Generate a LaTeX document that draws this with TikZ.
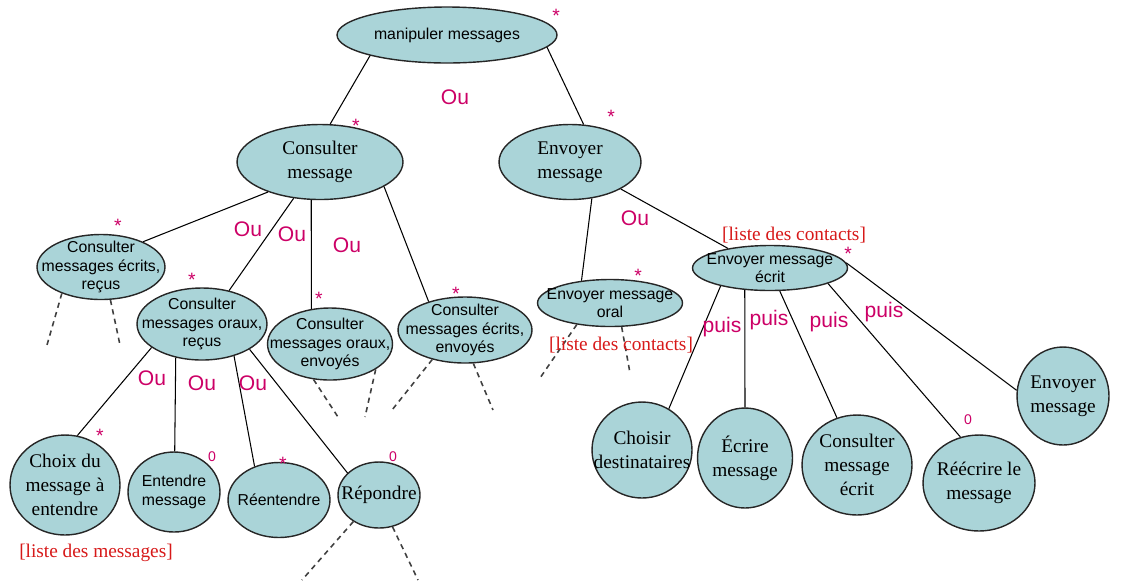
\documentclass[tikz,border=0pt]{standalone}
\usepackage{fontspec}
\setmainfont{Liberation Serif}
\setsansfont{Liberation Sans}
\usetikzlibrary{shapes.geometric}
\definecolor{tachefond}{RGB}{170,212,216}
\definecolor{rose}{RGB}{204,0,102}
\definecolor{rouge}{RGB}{215,25,25}
\tikzset{
  tache/.style 2 args={ellipse, draw=black!85, line width=.8pt, fill=tachefond, minimum width=#1, minimum height=#2, inner sep=0pt},
  txtserif/.style={font=\fontsize{11}{13.5}\selectfont, align=center},
  txtsans/.style={font=\sffamily\fontsize{9}{10.5}\selectfont, align=center},
  ou/.style={text=rose, font=\sffamily\fontsize{12}{12}\selectfont, inner sep=0pt},
  etoile/.style={text=rose, font=\sffamily\fontsize{11}{11}\selectfont, inner sep=0pt},
  liste/.style={text=rouge, font=\fontsize{11}{11}\selectfont, inner sep=0pt},
  lien/.style={line width=.6pt},
  suite/.style={line width=.9pt, black!75, dash pattern=on 3pt off 2.5pt}
}

\begin{document}
\begin{tikzpicture}[x=0.02cm, y=-0.02cm]
\useasboundingbox (0,0) rectangle (1124,586);

\node[tache={4.4cm}{1.12cm}, label={[txtsans]center:{manipuler messages}}] (manip) at (447,35) {};
\node[tache={3.32cm}{1.5cm}, label={[txtserif]center:{Consulter\\message}}] (cmsg) at (320,162) {};
\node[tache={2.84cm}{1.5cm}, label={[txtserif]center:{Envoyer\\message}}] (emsg) at (570,162) {};
\node[tache={2.56cm}{1.3cm}, label={[txtsans]center:{Consulter\\messages écrits,\\reçus}}] (ecr) at (101,267) {};
\node[tache={2.6cm}{1.44cm}, label={[txtsans]center:{Consulter\\messages oraux,\\reçus}}] (orr) at (202,324) {};
\node[tache={2.5cm}{1.44cm}, label={[txtsans]center:{Consulter\\messages oraux,\\envoyés}}] (ore) at (330,344) {};
\node[tache={2.68cm}{1.32cm}, label={[txtsans]center:{Consulter\\messages écrits,\\envoyés}}] (ece) at (465,330) {};
\node[tache={2.2cm}{2cm}, label={[txtserif]center:{Choix du\\message à\\entendre}}] (choix) at (65,485) {};
\node[tache={1.84cm}{1.6cm}, label={[txtsans]center:{Entendre\\message}}] (ent) at (174,492) {};
\node[tache={2.04cm}{1.5cm}, label={[txtsans]center:{Réentendre}}] (reent) at (279,500) {};
\node[tache={1.64cm}{1.32cm}, label={[txtserif]center:{Répondre}}] (rep) at (379,495) {};
\node[tache={2.9cm}{0.94cm}, label={[txtsans]center:{Envoyer message\\oral}}] (oral) at (610,303) {};
\node[tache={3.1cm}{0.9cm}, label={[txtsans]center:{Envoyer message\\écrit}}] (ecrit) at (770,268) {};
\node[tache={2cm}{1.92cm}, label={[txtserif]center:{Choisir\\destinataires}}] (chois) at (642,450) {};
\node[tache={1.9cm}{2cm}, label={[txtserif]center:{Écrire\\message}}] (ecrire) at (745,458) {};
\node[tache={2.2cm}{2cm}, label={[txtserif]center:{Consulter\\message\\écrit}}] (cecrit) at (857,465) {};
\node[tache={2.24cm}{1.92cm}, label={[txtserif]center:{Réécrire le\\message}}] (reecr) at (979,483) {};
\node[tache={1.84cm}{1.96cm}, label={[txtserif]center:{Envoyer\\message}}] (envm) at (1063,396) {};

\draw[lien] (manip.195) -- (cmsg.75);
\draw[lien] (manip.-7) -- (emsg.70);
\draw[lien] (cmsg.210) -- (ecr.31);
\draw[lien] (cmsg.234) -- (orr.51);
\draw[lien] (cmsg.257) -- (ore.118);
\draw[lien] (cmsg.-21) -- (ece.142);
\draw[lien] (emsg.-59) -- (oral.142);
\draw[lien] (emsg.-28) -- (ecrit.155);
\draw[lien] (orr.205) -- (choix.76);
\draw[lien] (orr.232) -- (ent.89);
\draw[lien] (orr.-45) -- (reent.126);
\draw[lien] (orr.-28) -- (rep.145);
\draw[lien] (ecrit.200) -- (chois.57);
\draw[lien] (ecrit.221) -- (ecrire.90);
\draw[lien] (ecrit.-67) -- (cecrit.113);
\draw[lien] (ecrit.-15) -- (reecr.112);
\draw[lien] (ecrit.4) -- (envm.173);

\coordinate (s1) at (47,345);
\coordinate (s2) at (120,345);
\coordinate (s3) at (338,417);
\coordinate (s4) at (365,417);
\coordinate (s5) at (392,410);
\coordinate (s6) at (493,410);
\coordinate (s7) at (302,580);
\coordinate (s8) at (418,580);
\coordinate (s9) at (540,378);
\coordinate (s10) at (630,373);
\draw[suite] (ecr.214) -- (s1);
\draw[suite] (ecr.286) -- (s2);
\draw[suite] (ore.245) -- (s3);
\draw[suite] (ore.331) -- (s4);
\draw[suite] (ece.222) -- (s5);
\draw[suite] (ece.284) -- (s6);
\draw[suite] (rep.226) -- (s7);
\draw[suite] (rep.293) -- (s8);
\draw[suite] (oral.213) -- (s9);
\draw[suite] (oral.296) -- (s10);

\node[ou] (ou1) at (455,97) {Ou};
\node[ou] (ou2) at (248,229) {Ou};
\node[ou] (ou3) at (292,234) {Ou};
\node[ou] (ou4) at (347,245) {Ou};
\node[ou] (ou5) at (635,218) {Ou};
\node[ou] (ou6) at (152,378) {Ou};
\node[ou] (ou7) at (202,383) {Ou};
\node[ou] (ou8) at (253,383) {Ou};
\node[ou] (puis1) at (722,327) {puis};
\node[ou] (puis2) at (769,320) {puis};
\node[ou] (puis3) at (829,322) {puis};
\node[ou] (puis4) at (884,312) {puis};

\node[etoile] (et1) at (556,16) {*};
\node[etoile] (et2) at (356,126) {*};
\node[etoile] (et3) at (611,117) {*};
\node[etoile] (et4) at (118,226) {*};
\node[etoile] (et5) at (192,280) {*};
\node[etoile] (et6) at (319,299) {*};
\node[etoile] (et7) at (456,294) {*};
\node[etoile] (et8) at (100,436) {*};
\node[etoile] (et9) at (283,464) {*};
\node[etoile] (et10) at (638,276) {*};
\node[etoile] (et11) at (848,254) {*};
\node[etoile, font=\sffamily\fontsize{8}{8}\selectfont] (z1) at (212,457) {0};
\node[etoile, font=\sffamily\fontsize{8}{8}\selectfont] (z2) at (393,457) {0};
\node[etoile, font=\sffamily\fontsize{8}{8}\selectfont] (z3) at (968,420) {0};

\node[liste] (lm) at (96,553) {[liste des messages]};
\node[liste] (lc1) at (621,345) {[liste des contacts]};
\node[liste] (lc2) at (794,235) {[liste des contacts]};
\end{tikzpicture}
\end{document}
